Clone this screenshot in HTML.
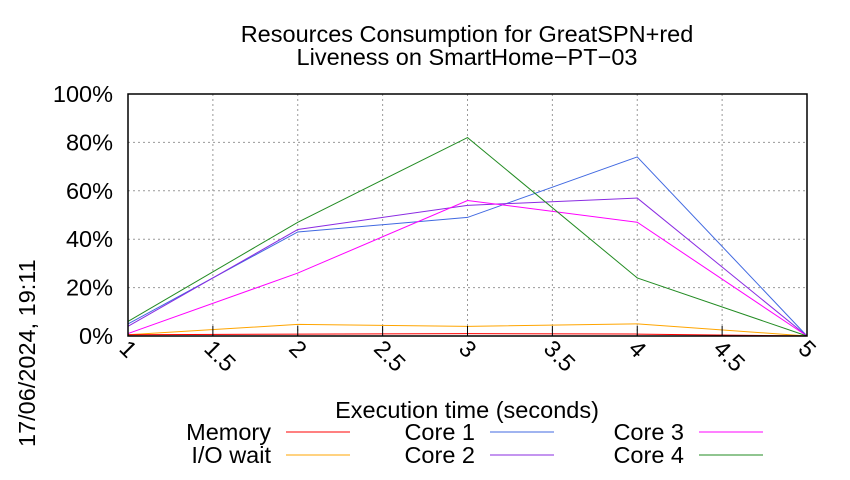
<!DOCTYPE html>
<html><head><meta charset="utf-8"><style>
body{margin:0;background:#fff;font-family:"Liberation Sans",sans-serif}
</style></head><body>
<svg width="850" height="475" viewBox="0 0 850 475" xmlns="http://www.w3.org/2000/svg" font-family="Liberation Sans, sans-serif">
<text x="467" y="42" text-anchor="middle" font-size="23.5">Resources Consumption for GreatSPN+red</text>
<text x="467" y="65" text-anchor="middle" font-size="23.5">Liveness on SmartHome−PT−03</text>
<text transform="translate(35,447) rotate(-90)" font-size="23.5">17/06/2024, 19:11</text>
<text x="467" y="418" text-anchor="middle" font-size="23.5">Execution time (seconds)</text>
<g id="grid"></g>
<g id="series"></g>
<rect x="128" y="94" width="679" height="242" fill="none" stroke="#000" stroke-width="1.5"/>
<g id="ticks"></g>
<g id="legend"></g>
</svg>
<script>
const xTicks=[1,1.5,2,2.5,3,3.5,4,4.5,5];
const yTicks=[0,20,40,60,80,100];
const times=[1,2,3,4,5];
const seriesNames=["Memory","I/O wait","Core 1","Core 2","Core 3","Core 4"];
const memory=[0.5,0.8,1,0.8,0];
const ioWait=[0.5,4.8,4,5,0];
const core1=[5,43,49,74,0];
const core2=[4,44,54,57,0];
const core3=[1,26,56,47,0];
const core4=[6,47,82,24,0];
const colors=["#ff0000","#ffa500","#4169e1","#8a2be2","#ff00ff","#228b22"];
const NS="http://www.w3.org/2000/svg";
const X=v=>128+(v-1)/4*679, Y=v=>336-v/100*242;
function mk(t,a,p){const e=document.createElementNS(NS,t);for(const k in a)e.setAttribute(k,a[k]);p.appendChild(e);return e;}
const grid=document.getElementById('grid'),ticks=document.getElementById('ticks'),ser=document.getElementById('series'),leg=document.getElementById('legend');
xTicks.forEach(v=>{
 const g=mk('line',{x1:X(v),x2:X(v),y1:94,y2:336,stroke:'#999','stroke-dasharray':'2,3','stroke-width':1},grid);
 
 
 const t=mk('line',{x1:X(v),x2:X(v),y1:336,y2:326,stroke:'#000'},ticks);
 
 
 const l=mk('text',{transform:`translate(${X(v)-10},${350}) rotate(45)`,'font-size':23.5},ticks);
 l.textContent=String(v);
 
 
});
yTicks.forEach(v=>{
 const g=mk('line',{x1:128,x2:807,y1:Y(v),y2:Y(v),stroke:'#999','stroke-dasharray':'2,3','stroke-width':1},grid);
 
 
 const l=mk('text',{x:113,y:Y(v)+8,'text-anchor':'end','font-size':23.5},ticks);
 l.textContent=v+'%';
 
 
});
const data=[memory,ioWait,core1,core2,core3,core4];
const order=[1,2,3,4,5,0];
order.forEach(i=>{
 const p=mk('polyline',{points:data[i].map((v,j)=>X(times[j])+','+Y(v)).join(' '),fill:'none',stroke:colors[i],'stroke-width':1},ser);
 
 
});
const legPos=[[271,432],[271,455],[475,432],[475,455],[684,432],[684,455]];
seriesNames.forEach((n,i)=>{
 const [x,y]=legPos[i];
 const t=mk('text',{x:x,y:y+8,'text-anchor':'end','font-size':23.5},leg);
 t.textContent=n;
 
 
 const l=mk('line',{x1:x+15,x2:x+79,y1:y,y2:y,stroke:colors[i],'stroke-width':1},leg);
 
 
});
</script>
</body></html>
